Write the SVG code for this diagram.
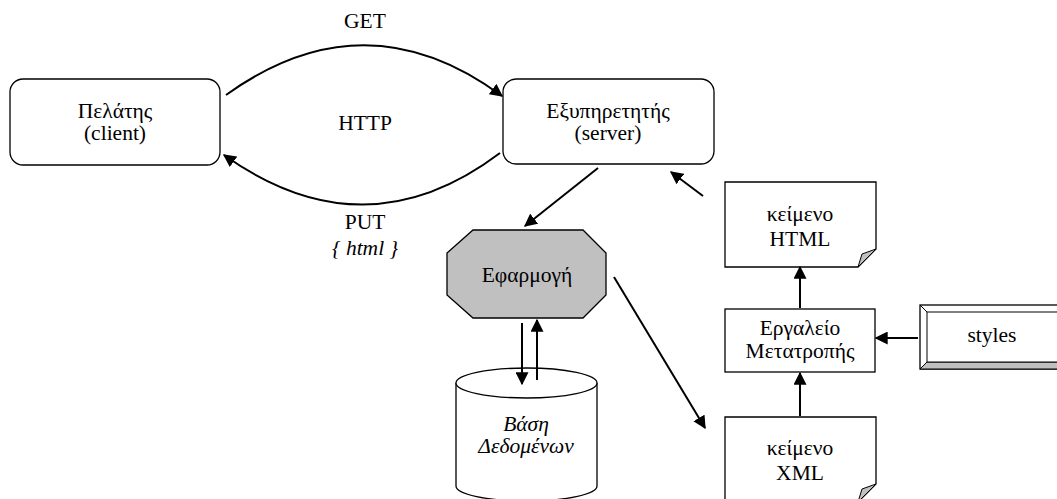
<svg xmlns="http://www.w3.org/2000/svg" width="1057" height="499" viewBox="0 0 1057 499">
  <style>
    text { font-family: "Liberation Serif", "Times New Roman", serif; font-size: 21.5px; fill: #000; text-anchor: middle; }
    .it { font-style: italic; }
    .box { fill: #fff; stroke: #000; stroke-width: 1.3; }
    .conn { fill: none; stroke: #000; stroke-width: 2; }
  </style>
  <defs>
    <marker id="arr" viewBox="0 0 10 10" refX="9" refY="5" markerWidth="6.5" markerHeight="6.5" markerUnits="strokeWidth" orient="auto">
      <path d="M0,0 L10,5 L0,10 z" fill="#000"/>
    </marker>
  </defs>

  <rect width="1057" height="499" fill="#fff"/>

  <g id="client">
    <rect class="box" x="10" y="79" width="210" height="86" rx="13"/>
    <text x="115" y="118">Πελάτης</text>
    <text x="115" y="140">(client)</text>
  </g>

  <g id="server">
    <rect class="box" x="503" y="79" width="211" height="85" rx="13"/>
    <text x="608" y="118">Εξυπηρετητής</text>
    <text x="608" y="140">(server)</text>
  </g>

  <g id="application">
    <polygon points="473,230 583,230 606,253 606,295 583,318 473,318 447,295 447,253" fill="#c0c0c0" stroke="#000" stroke-width="1.3"/>
    <text x="527" y="282">Εφαρμογή</text>
  </g>

  <g id="database">
    <path class="box" d="M456,383 L456,486 A70.5,15 0 0 0 597,486 L597,383"/>
    <ellipse class="box" cx="526.5" cy="383" rx="70.5" ry="15"/>
    <text class="it" x="526" y="431">Βάση</text>
    <text class="it" x="526" y="453">Δεδομένων</text>
  </g>

  <g id="html-doc">
    <path class="box" d="M725,182 L876,182 L876,249 L858,267 L725,267 Z"/>
    <path d="M858,267 L862,254 L876,249 Z" fill="#c0c0c0" stroke="#000" stroke-width="1"/>
    <text x="800" y="221">κείμενο</text>
    <text x="800" y="246">HTML</text>
  </g>

  <g id="converter">
    <rect class="box" x="725" y="309" width="150" height="63"/>
    <text x="800" y="335">Εργαλείο</text>
    <text x="800" y="358">Μετατροπής</text>
  </g>

  <g id="xml-doc">
    <path class="box" d="M725,417 L876,417 L876,484 L858,502 L725,502 Z"/>
    <path d="M858,502 L862,489 L876,484 Z" fill="#c0c0c0" stroke="#000" stroke-width="1"/>
    <text x="800" y="455">κείμενο</text>
    <text x="800" y="480">XML</text>
  </g>

  <g id="styles">
    <rect x="920" y="305" width="145" height="64" fill="#fff" stroke="#000" stroke-width="1.3"/>
    <path d="M920,369 L927,362 L1065,362 L1065,369 Z" fill="#c0c0c0" stroke="#000" stroke-width="1"/>
    <rect x="927" y="312" width="138" height="50" fill="#fff" stroke="#000" stroke-width="1"/>
    <line x1="920" y1="305" x2="927" y2="312" stroke="#000" stroke-width="1"/>
    <text x="992" y="342">styles</text>
  </g>

  <!-- connectors -->
  <g id="connectors">
    <path class="conn" d="M226,95 Q365,-5 502,96" marker-end="url(#arr)"/>
    <path class="conn" d="M500,153 Q365,255 224,155" marker-end="url(#arr)"/>
    <line class="conn" x1="598" y1="168" x2="525" y2="226" marker-end="url(#arr)"/>
    <line class="conn" x1="703" y1="196" x2="671" y2="172" marker-end="url(#arr)"/>
    <line class="conn" x1="614" y1="277" x2="705" y2="428" marker-end="url(#arr)"/>
    <line class="conn" x1="522" y1="323" x2="522" y2="384" marker-end="url(#arr)"/>
    <line class="conn" x1="537" y1="380" x2="537" y2="320" marker-end="url(#arr)"/>
    <line class="conn" x1="800" y1="308" x2="800" y2="267" marker-end="url(#arr)"/>
    <line class="conn" x1="800" y1="416" x2="800" y2="373" marker-end="url(#arr)"/>
    <line class="conn" x1="918" y1="338" x2="876" y2="338" marker-end="url(#arr)"/>
  </g>

  <!-- connector labels -->
  <g id="labels">
    <text x="365" y="28">GET</text>
    <text x="365" y="130">HTTP</text>
    <text x="365" y="229">PUT</text>
    <text class="it" x="365" y="255">{ html }</text>
  </g>
</svg>
